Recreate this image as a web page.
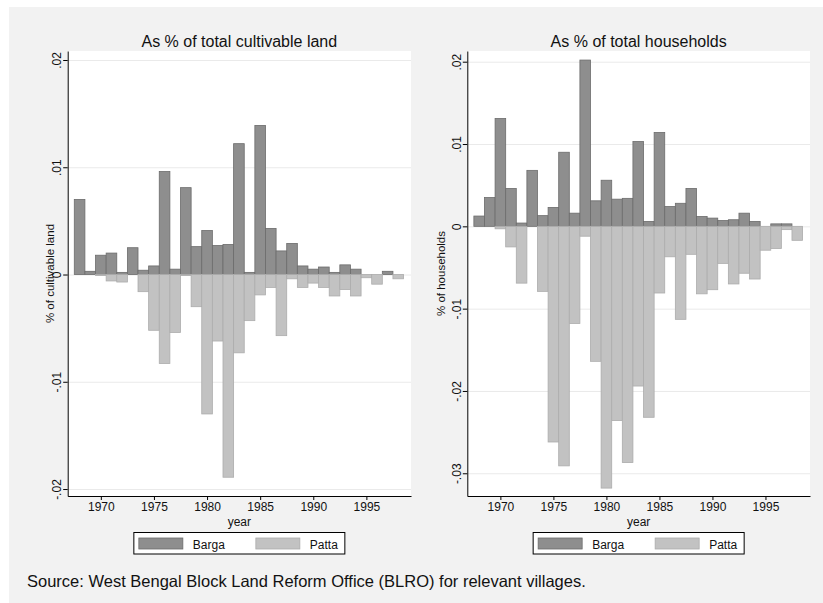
<!DOCTYPE html>
<html>
<head>
<meta charset="utf-8">
<script src="https://cdn.jsdelivr.net/npm/d3@7"></script>
<style>
  body { margin: 0; background: #fff; }
  text { font-family: "Liberation Sans", Arial, Helvetica, sans-serif; fill: #111; }
</style>
</head>
<body>
<div id="chart"></div>
<script>
const width = 823;
const height = 603;

// years on the x axis (one bar per year)
const years = [1968, 1969, 1970, 1971, 1972, 1973, 1974, 1975, 1976, 1977,
  1978, 1979, 1980, 1981, 1982, 1983, 1984, 1985, 1986, 1987,
  1988, 1989, 1990, 1991, 1992, 1993, 1994, 1995, 1996, 1997, 1998];

// left panel: as % of total cultivable land
const landBarga = [0.0070, 0.0003, 0.0018, 0.0020, 0.0002, 0.0025, 0.0004, 0.0008, 0.0096, 0.0005,
  0.0081, 0.0026, 0.0041, 0.0027, 0.0028, 0.0122, 0.0002, 0.0139, 0.0043, 0.0022,
  0.0029, 0.0008, 0.0005, 0.0007, 0.0002, 0.0009, 0.0005, 0, 0, 0.0003, 0];
const landPatta = [0, 0, -0.0001, -0.0006, -0.0007, 0, -0.0016, -0.0052, -0.0083, -0.0054,
  -0.0001, -0.0030, -0.0130, -0.0062, -0.0189, -0.0073, -0.0043, -0.0019, -0.0012, -0.0057,
  -0.0004, -0.0012, -0.0008, -0.0012, -0.0020, -0.0014, -0.0020, -0.0003, -0.0009, 0, -0.0004];

// right panel: as % of total households
const hhBarga = [0.00125, 0.0035, 0.0131, 0.0046, 0.0004, 0.0068, 0.0013, 0.0023, 0.0090, 0.0016,
  0.0202, 0.0031, 0.0056, 0.0033, 0.0034, 0.0103, 0.0006, 0.0114, 0.0024, 0.0028,
  0.0046, 0.0012, 0.0010, 0.0007, 0.0008, 0.0016, 0.0006, 0, 0.0003, 0.0003, 0];
const hhPatta = [0, 0, -0.0003, -0.0025, -0.0069, 0, -0.0079, -0.0262, -0.0291, -0.0118,
  -0.0012, -0.0164, -0.0318, -0.0236, -0.0287, -0.0194, -0.0232, -0.0081, -0.0037, -0.0113,
  -0.0034, -0.0082, -0.0077, -0.0045, -0.0070, -0.0057, -0.0064, -0.0029, -0.0027, -0.0004, -0.0017];

const xTicks = [1970, 1975, 1980, 1985, 1990, 1995];
const landTicks = [-0.02, -0.01, 0, 0.01, 0.02];
const landTickLabels = ["-.02", "-.01", "0", ".01", ".02"];
const hhTicks = [-0.03, -0.02, -0.01, 0, 0.01, 0.02];
const hhTickLabels = ["-.03", "-.02", "-.01", "0", ".01", ".02"];

const seriesNames = ["Barga", "Patta"];
const colors = { fill: ["#8e8e8e", "#c2c2c2"], stroke: ["#6c6c6c", "#acacac"] };

const svg = d3
  .select("#chart")
  .append("svg")
  .attr("width", width)
  .attr("height", height);

svg.append("rect").attr("width", width).attr("height", height).attr("fill", "#fff");
svg
  .append("rect")
  .attr("x", 9)
  .attr("y", 7)
  .attr("width", width - 9)
  .attr("height", height - 7)
  .attr("fill", "#f2f2f2");

function drawPanel(cfg) {
  const top = 51;
  const bottom = 496;

  const x = d3
    .scaleLinear()
    .domain([1966.88, 1999.2])
    .range([cfg.left, cfg.right]);

  const y = d3
    .scaleLinear()
    .domain(cfg.yDomain)
    .range([bottom, top]);

  const g = svg.append("g");

  // plot region
  g.append("rect")
    .attr("x", cfg.left)
    .attr("y", top)
    .attr("width", cfg.right - cfg.left)
    .attr("height", bottom - top)
    .attr("fill", "#fff");

  // grid lines
  g.append("g")
    .selectAll("line")
    .data(cfg.ticks)
    .join("line")
    .attr("x1", cfg.left)
    .attr("x2", cfg.right)
    .attr("y1", (d) => y(d) + 0.5)
    .attr("y2", (d) => y(d) + 0.5)
    .attr("stroke", "#eaeaea")
    .attr("stroke-width", 1);

  // bars
  [cfg.barga, cfg.patta].forEach((vals, k) => {
    g.append("g")
      .selectAll("rect")
      .data(vals.map((v, i) => ({ year: years[i], v })).filter((d) => d.v !== 0))
      .join("rect")
      .attr("x", (d) => x(d.year - 0.5))
      .attr("width", (d) => x(d.year + 0.5) - x(d.year - 0.5))
      .attr("y", (d) => Math.min(y(d.v), y(0)))
      .attr("height", (d) => Math.abs(y(d.v) - y(0)))
      .attr("fill", colors.fill[k])
      .attr("stroke", colors.stroke[k])
      .attr("stroke-width", 0.8);
  });

  // y axis
  const yAxis = g
    .append("g")
    .attr("transform", `translate(${cfg.left},0)`)
    .call(
      d3
        .axisLeft(y)
        .tickValues(cfg.ticks)
        .tickFormat((d, i) => cfg.tickLabels[i])
        .tickSize(4.5)
        .tickSizeOuter(0)
    );
  yAxis.selectAll(".tick text")
    .attr("x", 0)
    .attr("dy", 0)
    .attr("text-anchor", "middle")
    .attr("transform", "translate(-6.5,0) rotate(-90)")
    .attr("font-size", "12px")
    .attr("fill", "#111");
  yAxis.select(".domain").attr("stroke", "#000");

  // x axis
  const xAxis = g
    .append("g")
    .attr("transform", `translate(0,${bottom})`)
    .call(
      d3
        .axisBottom(x)
        .tickValues(xTicks)
        .tickFormat(d3.format("d"))
        .tickSize(4)
        .tickPadding(2.5)
        .tickSizeOuter(0)
    );
  xAxis.selectAll(".tick text").attr("font-size", "12px").attr("fill", "#111");
  xAxis.select(".domain").attr("stroke", "#000");

  const cx = (cfg.left + cfg.right) / 2;

  // titles
  g.append("text")
    .attr("x", cx)
    .attr("y", 46.5)
    .attr("text-anchor", "middle")
    .attr("font-size", "16px")
    .text(cfg.title);

  g.append("text")
    .attr("x", cx)
    .attr("y", 525.5)
    .attr("text-anchor", "middle")
    .attr("font-size", "12px")
    .text("year");

  g.append("text")
    .attr("transform", `translate(${cfg.left - cfg.yTitleGap},${(top + bottom) / 2}) rotate(-90)`)
    .attr("text-anchor", "middle")
    .attr("font-size", "11.5px")
    .text(cfg.yTitle);

  // legend
  const lw = 211;
  const lx = cx - lw / 2;
  const legend = g.append("g").attr("transform", `translate(${lx},532.5)`);
  legend
    .append("rect")
    .attr("width", lw)
    .attr("height", 21.5)
    .attr("fill", "#fff")
    .attr("stroke", "#000")
    .attr("stroke-width", 1);
  const items = legend
    .selectAll(".item")
    .data(seriesNames)
    .join("g")
    .attr("class", "item")
    .attr("transform", (d, i) => `translate(${5 + i * 117},0)`);
  items
    .append("rect")
    .attr("y", 5.5)
    .attr("width", 44)
    .attr("height", 11)
    .attr("fill", (d, i) => colors.fill[i])
    .attr("stroke", (d, i) => colors.stroke[i])
    .attr("stroke-width", 0.8);
  items
    .append("text")
    .attr("x", (d, i) => (i === 0 ? 70 : 68))
    .attr("y", 16.5)
    .attr("text-anchor", "middle")
    .attr("font-size", "12px")
    .text((d) => d);
}

drawPanel({
  left: 67.7,
  right: 411,
  yDomain: [-0.02065, 0.02084],
  ticks: landTicks,
  tickLabels: landTickLabels,
  barga: landBarga,
  patta: landPatta,
  title: "As % of total cultivable land",
  yTitle: "% of cultivable land",
  yTitleGap: 14,
});

drawPanel({
  left: 467.3,
  right: 810,
  yDomain: [-0.03276, 0.0213],
  ticks: hhTicks,
  tickLabels: hhTickLabels,
  barga: hhBarga,
  patta: hhPatta,
  title: "As % of total households",
  yTitle: "% of households",
  yTitleGap: 22,
});

// source note
svg
  .append("text")
  .attr("x", 27)
  .attr("y", 586.5)
  .attr("font-size", "16.5px")
  .text("Source: West Bengal Block Land Reform Office (BLRO) for relevant villages.");
</script>
</body>
</html>
